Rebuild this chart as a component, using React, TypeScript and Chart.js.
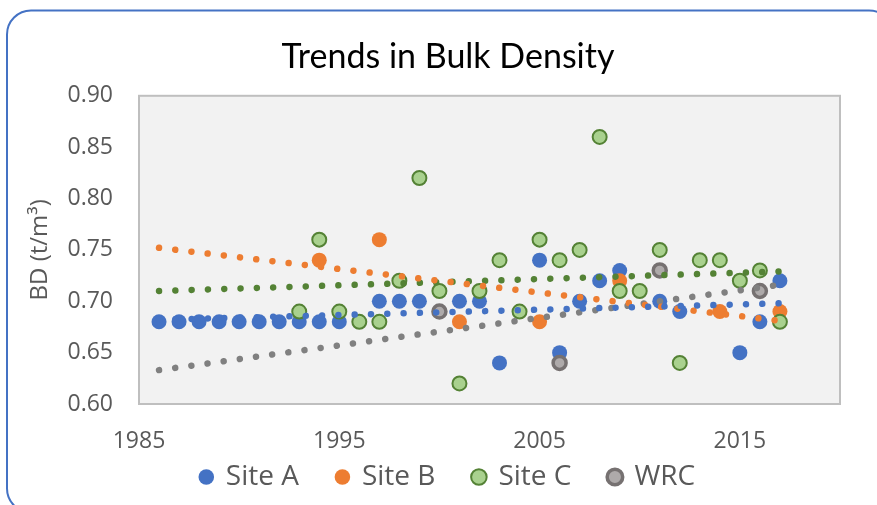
import React, { useEffect, useRef } from "react";
import { Chart, registerables } from "chart.js";

Chart.register(...registerables);

// ---- data ----
const xTickLabels = [1985, 1995, 2005, 2015];
const yTickLabels = [0.6, 0.65, 0.7, 0.75, 0.8, 0.85, 0.9];

const siteAYears = [1986, 1987, 1988, 1989, 1990, 1991, 1992, 1993, 1994, 1995, 1997, 1998, 1999, 2001, 2002, 2003, 2005, 2006, 2007, 2008, 2009, 2011, 2012, 2015, 2016, 2017];
const siteAValues = [0.68, 0.68, 0.68, 0.68, 0.68, 0.68, 0.68, 0.68, 0.68, 0.68, 0.7, 0.7, 0.7, 0.7, 0.7, 0.64, 0.74, 0.65, 0.7, 0.72, 0.73, 0.7, 0.69, 0.65, 0.68, 0.72];

const siteBYears = [1994, 1997, 2001, 2005, 2009, 2014, 2017];
const siteBValues = [0.74, 0.76, 0.68, 0.68, 0.72, 0.69, 0.69];

const siteCYears = [1993, 1994, 1995, 1996, 1997, 1998, 1999, 2000, 2001, 2002, 2003, 2004, 2005, 2006, 2007, 2008, 2009, 2010, 2011, 2012, 2013, 2014, 2015, 2016, 2017];
const siteCValues = [0.69, 0.76, 0.69, 0.68, 0.68, 0.72, 0.82, 0.71, 0.62, 0.71, 0.74, 0.69, 0.76, 0.74, 0.75, 0.86, 0.71, 0.71, 0.75, 0.64, 0.74, 0.74, 0.72, 0.73, 0.68];

const wrcYears = [2000, 2006, 2011, 2016];
const wrcValues = [0.69, 0.64, 0.73, 0.71];

// linear trendline end points
const trendYears = [1986, 2017];
const trendA = [0.682, 0.698];
const trendB = [0.752, 0.681];
const trendC = [0.71, 0.729];
const trendWRC = [0.633, 0.716];

const toPts = (xs: number[], ys: number[]) => xs.map((x, i) => ({ x, y: ys[i] }));

const FONT = "'Open Sans', sans-serif";

const framePlugin = {
  id: "frame",
  beforeDraw(chart: any) {
    const ctx = chart.ctx;
    ctx.save();
    ctx.fillStyle = "#ffffff";
    ctx.fillRect(0, 0, chart.width, chart.height);
    const x = 7, y = 10.5, w = 886, h = 502, r = 24;
    ctx.beginPath();
    ctx.moveTo(x + r, y);
    ctx.lineTo(x + w - r, y);
    ctx.arcTo(x + w, y, x + w, y + r, r);
    ctx.lineTo(x + w, y + h - r);
    ctx.arcTo(x + w, y + h, x + w - r, y + h, r);
    ctx.lineTo(x + r, y + h);
    ctx.arcTo(x, y + h, x, y + h - r, r);
    ctx.lineTo(x, y + r);
    ctx.arcTo(x, y, x + r, y, r);
    ctx.closePath();
    ctx.lineWidth = 2;
    ctx.strokeStyle = "#4472C4";
    ctx.stroke();
    ctx.restore();
  },
  beforeDatasetsDraw(chart: any) {
    const { ctx, chartArea } = chart;
    const { left, top, right, bottom } = chartArea;
    ctx.save();
    ctx.fillStyle = "#F2F2F2";
    ctx.fillRect(left, top, right - left, bottom - top);
    ctx.lineWidth = 2;
    ctx.strokeStyle = "#BFBFBF";
    ctx.strokeRect(left, top, right - left, bottom - top);
    ctx.restore();
  },
};

const trendStyle = (color: string) => ({
  type: "line" as const,
  borderColor: color,
  backgroundColor: color,
  borderWidth: 6.5,
  borderDash: [0.01, 16.3],
  borderCapStyle: "round" as const,
  pointRadius: 0,
  fill: false,
  order: 0,
});

export default function App() {
  const ref = useRef<HTMLCanvasElement | null>(null);

  useEffect(() => {
    if (!ref.current) return;
    const chart = new Chart(ref.current, {
      type: "scatter",
      data: {
        datasets: [
          {
            label: "Site A",
            data: toPts(siteAYears, siteAValues),
            backgroundColor: "#4472C4",
            borderColor: "#4472C4",
            borderWidth: 0,
            pointRadius: 7.5,
            order: 4,
          },
          {
            label: "Site B",
            data: toPts(siteBYears, siteBValues),
            backgroundColor: "#ED7D31",
            borderColor: "#ED7D31",
            borderWidth: 0,
            pointRadius: 7.5,
            order: 3,
          },
          {
            label: "Site C",
            data: toPts(siteCYears, siteCValues),
            backgroundColor: "#A9D18E",
            borderColor: "#548235",
            borderWidth: 2,
            pointRadius: 7,
            order: 2,
          },
          {
            label: "WRC",
            data: toPts(wrcYears, wrcValues),
            backgroundColor: "#AEAAAA",
            borderColor: "#767171",
            borderWidth: 3.5,
            pointRadius: 6.5,
            order: 1,
          },
          { label: "trendA", data: toPts(trendYears, trendA), ...trendStyle("#4472C4") },
          { label: "trendB", data: toPts(trendYears, trendB), ...trendStyle("#ED7D31") },
          { label: "trendC", data: toPts(trendYears, trendC), ...trendStyle("#548235") },
          { label: "trendWRC", data: toPts(trendYears, trendWRC), ...trendStyle("#808080") },
        ] as any,
      },
      options: {
        animation: false,
        responsive: false,
        maintainAspectRatio: false,
        layout: { padding: { left: 56, right: 37, top: 0, bottom: 4 } },
        plugins: {
          tooltip: { enabled: false },
          title: {
            display: true,
            text: "Trends in Bulk Density",
            color: "#000000",
            font: { family: "Lato, sans-serif", size: 34, weight: "normal" },
            padding: { top: 37, bottom: 18 },
          },
          legend: {
            position: "bottom",
            labels: {
              usePointStyle: true,
              pointStyle: "circle",
              boxWidth: 11,
              boxHeight: 11,
              padding: 38,
              color: "#595959",
              font: { family: FONT, size: 28 },
              filter: (item: any) => item.datasetIndex < 4,
              sort: (a: any, b: any) => a.datasetIndex - b.datasetIndex,
            },
          },
        },
        scales: {
          x: {
            type: "linear",
            min: 1985,
            max: 2020,
            grid: { display: false, drawTicks: false },
            border: { display: false },
            ticks: {
              padding: 24,
              color: "#595959",
              font: { family: FONT, size: 23 },
              callback: (v: any) => String(v),
            },
            afterBuildTicks: (scale: any) => {
              scale.ticks = xTickLabels.map((v) => ({ value: v }));
            },
            afterFit: (scale: any) => {
              scale.height = 21;
              // let tick labels extend below the (shortened) axis box
              scale._computeLabelArea = () => undefined;
            },
          },
          y: {
            type: "linear",
            min: 0.6,
            max: 0.9,
            grid: { display: false, drawTicks: false },
            border: { display: false },
            title: {
              display: true,
              text: "BD (t/m³)",
              color: "#595959",
              font: { family: FONT, size: 24 },
              padding: { top: -30, bottom: 0 },
            },
            ticks: {
              padding: 26,
              color: "#595959",
              font: { family: FONT, size: 23 },
              callback: (v: any) => Number(v).toFixed(2),
            },
            afterBuildTicks: (scale: any) => {
              scale.ticks = yTickLabels.map((v) => ({ value: v }));
            },
            afterFit: (scale: any) => {
              scale.width = 83;
            },
          },
        },
      },
      plugins: [framePlugin],
    });
    return () => chart.destroy();
  }, []);

  return (
    <div style={{ position: "fixed", left: 0, top: 0, width: 877, height: 505 }}>
      <canvas ref={ref} width={877} height={505} style={{ width: 877, height: 505, display: "block" }} />
    </div>
  );
}
